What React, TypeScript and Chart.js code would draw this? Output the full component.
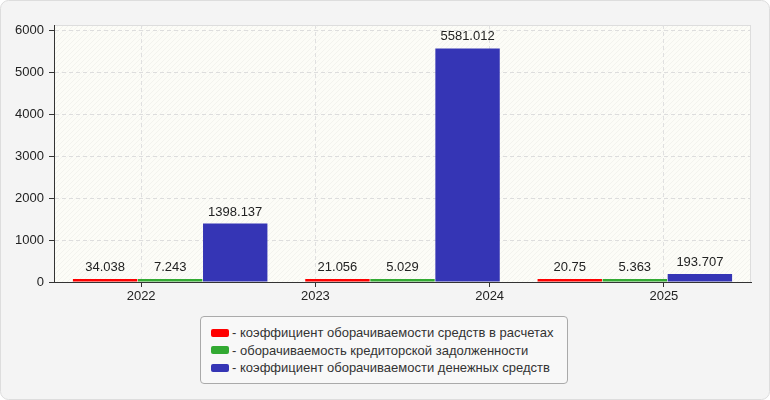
import React, { useEffect, useRef } from 'react';
import Chart from 'chart.js/auto';

// x-axis labels and the three bar groups
const years = ['2022', '2023', '2024', '2025'];
const groups = ['2022', '2023', '2024'];

// series values
const settlementTurnover = [34.038, 21.056, 20.75];
const payablesTurnover = [7.243, 5.029, 5.363];
const cashTurnover = [1398.137, 5581.012, 193.707];

const yTicks = [0, 1000, 2000, 3000, 4000, 5000, 6000];
const yMax = 6140;

const seriesNames = [
  'коэффициент оборачиваемости средств в расчетах',
  'оборачиваемость кредиторской задолженности',
  'коэффициент оборачиваемости денежных средств',
];
const seriesColors = ['#ff0000', '#33aa33', '#3535b5'];

const FONT = '"Liberation Sans", Arial, sans-serif';

const backgroundPlugin = {
  id: 'background',
  beforeDraw(chart: any) {
    const { ctx, chartArea: a, width, height } = chart;
    ctx.save();
    ctx.fillStyle = '#f4f4f4';
    ctx.strokeStyle = '#dddddd';
    ctx.beginPath();
    ctx.roundRect(0.5, 0.5, width - 1, height - 1, 8);
    ctx.fill();
    ctx.stroke();

    // plot area with a faint diagonal hatch
    ctx.fillStyle = '#fcfcf7';
    ctx.fillRect(a.left, a.top, a.width, a.height);
    ctx.beginPath();
    ctx.rect(a.left, a.top, a.width, a.height);
    ctx.clip();
    ctx.strokeStyle = 'rgba(0,0,0,0.035)';
    ctx.lineWidth = 1;
    ctx.beginPath();
    for (let x = a.left - a.height; x < a.right; x += 5) {
      ctx.moveTo(x, a.bottom);
      ctx.lineTo(x + a.height, a.top);
    }
    ctx.stroke();
    ctx.restore();

    ctx.save();
    ctx.strokeStyle = '#dddddd';
    ctx.lineWidth = 1;
    ctx.strokeRect(Math.round(a.left) + 0.5, Math.round(a.top) + 0.5, a.width - 1, a.height);
    ctx.restore();
  },
};

const valueLabelPlugin = {
  id: 'valueLabels',
  afterDatasetsDraw(chart: any) {
    const { ctx } = chart;
    ctx.save();
    ctx.font = `13px ${FONT}`;
    ctx.fillStyle = '#222222';
    ctx.textAlign = 'center';
    ctx.textBaseline = 'bottom';
    chart.data.datasets.forEach((ds: any, i: number) => {
      chart.getDatasetMeta(i).data.forEach((bar: any, j: number) => {
        ctx.fillText(String(ds.data[j]), bar.x, bar.y - 5);
      });
    });
    ctx.restore();
  },
};

const App: React.FC = () => {
  const canvasRef = useRef<HTMLCanvasElement | null>(null);
  const chartRef = useRef<Chart | null>(null);

  useEffect(() => {
    if (!canvasRef.current) return;
    if (chartRef.current) chartRef.current.destroy();

    const values = [settlementTurnover, payablesTurnover, cashTurnover];

    chartRef.current = new Chart(canvasRef.current, {
      type: 'bar',
      data: {
        labels: groups,
        datasets: values.map((data, i) => ({
          label: seriesNames[i],
          data,
          backgroundColor: seriesColors[i],
          borderWidth: 0,
          minBarLength: 3,
          xAxisID: 'xb',
          categoryPercentage: 0.84,
          barPercentage: 0.99,
        })),
      },
      options: {
        animation: false,
        responsive: false,
        layout: { padding: { left: 0, right: 19, top: 25, bottom: 96 } },
        plugins: {
          legend: { display: false },
          tooltip: { enabled: false },
        },
        scales: {
          x: {
            type: 'category',
            labels: years,
            offset: true,
            position: 'bottom',
            grid: { offset: false, color: '#e0e0e0', tickColor: '#333333', tickLength: 5 },
            border: { color: '#333333', dash: [4, 3] },
            ticks: { color: '#222222', font: { size: 13, family: FONT }, padding: 2 },
            afterFit: (s: any) => {
              s.height = 22;
            },
          },
          xb: {
            type: 'category',
            labels: groups,
            display: false,
            offset: true,
            grid: { offset: true },
          },
          y: {
            min: 0,
            max: yMax,
            afterBuildTicks: (s: any) => {
              s.ticks = yTicks.map((value) => ({ value }));
            },
            afterFit: (s: any) => {
              s.width = 54;
            },
            grid: { color: '#dddddd', tickColor: '#333333', tickLength: 5 },
            border: { color: '#333333', dash: [4, 3] },
            ticks: {
              color: '#222222',
              font: { size: 13, family: FONT },
              padding: 5,
              callback: (v: any) => String(v),
            },
          },
        },
      },
      plugins: [backgroundPlugin, valueLabelPlugin],
    } as any);

    return () => {
      if (chartRef.current) {
        chartRef.current.destroy();
        chartRef.current = null;
      }
    };
  }, []);

  return (
    <div style={{ position: 'absolute', left: 0, top: 0, width: 770, height: 400 }}>
      <canvas ref={canvasRef} width={770} height={400} style={{ width: 770, height: 400 }} />
      <div
        style={{
          position: 'absolute',
          left: 200,
          top: 316,
          width: 368,
          boxSizing: 'border-box',
          padding: '7px 10px 6px 10px',
          border: '1px solid #aaaaaa',
          borderRadius: 4,
          background: '#f8f8f8',
          fontFamily: FONT,
          fontSize: 13,
          lineHeight: '17.5px',
          color: '#333333',
        }}
      >
        {seriesNames.map((name, i) => (
          <div key={name} style={{ display: 'flex', alignItems: 'center', whiteSpace: 'nowrap' }}>
            <span
              style={{
                display: 'inline-block',
                width: 18,
                height: 8,
                borderRadius: 2,
                background: seriesColors[i],
                marginRight: 3,
              }}
            />
            <span>- {name}</span>
          </div>
        ))}
      </div>
    </div>
  );
};

export default App;
